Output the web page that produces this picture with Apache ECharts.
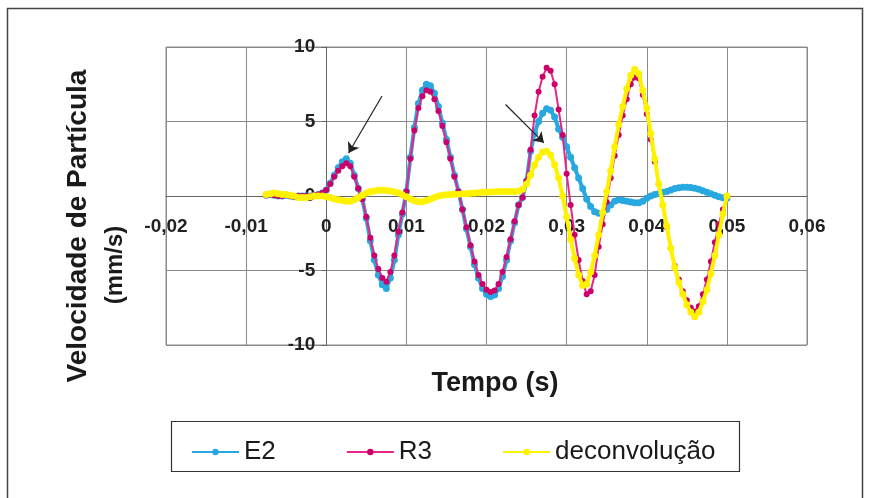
<!DOCTYPE html>
<html>
<head>
<meta charset="utf-8">
<script src="https://cdn.jsdelivr.net/npm/echarts@6/dist/echarts.min.js"></script>
<style>html,body{margin:0;padding:0;background:#fff}#c{width:870px;height:498px}</style>
</head>
<body>
<div id="c"></div>
<script>
// time (s)
var T = [
 -0.0075,-0.007,-0.0065,-0.006,-0.0055,-0.005,-0.0045,-0.004,-0.0035,-0.003,
 -0.0025,-0.002,-0.0015,-0.001,-0.0005,0,0.0005,0.001,0.0015,0.002,
 0.0025,0.003,0.0035,0.004,0.0045,0.005,0.0055,0.006,0.0065,0.007,
 0.0075,0.008,0.0085,0.009,0.0095,0.01,0.0105,0.011,0.0115,0.012,
 0.0125,0.013,0.0135,0.014,0.0145,0.015,0.0155,0.016,0.0165,0.017,
 0.0175,0.018,0.0185,0.019,0.0195,0.02,0.0205,0.021,0.0215,0.022,
 0.0225,0.023,0.0235,0.024,0.0245,0.025,0.0255,0.026,0.0265,0.027,
 0.0275,0.028,0.0285,0.029,0.0295,0.03,0.0305,0.031,0.0315,0.032,
 0.0325,0.033,0.0335,0.034,0.0345,0.035,0.0355,0.036,0.0365,0.037,
 0.0375,0.038,0.0385,0.039,0.0395,0.04,0.0405,0.041,0.0415,0.042,
 0.0425,0.043,0.0435,0.044,0.0445,0.045,0.0455,0.046,0.0465,0.047,
 0.0475,0.048,0.0485,0.049,0.0495,0.05
];
// E2 (mm/s)
var E2 = [
 0.05,0.1,0.05,0,0,0.05,0,-0.05,0,0,
 0,0,0.05,0.1,0.2,0.4,0.85,1.4,1.9,2.3,
 2.5,2.2,1.4,0.5,-0.2,-1.5,-3.0,-4.3,-5.3,-5.95,
 -6.2,-5.5,-4.3,-2.6,-1.2,0.3,2.6,4.6,6.2,7.1,
 7.5,7.4,6.9,6.0,4.9,3.8,2.6,1.4,0.3,-0.9,
 -2.2,-3.4,-4.6,-5.5,-6.2,-6.6,-6.75,-6.65,-6.2,-5.4,
 -4.3,-3.0,-1.8,-0.6,-0.1,1.0,3.0,4.2,5.0,5.55,
 5.85,5.75,5.3,4.5,3.95,3.3,2.6,1.9,1.2,0.5,
 -0.2,-0.7,-1.05,-1.15,-1.15,-0.9,-0.6,-0.35,-0.25,-0.3,
 -0.35,-0.4,-0.45,-0.45,-0.35,-0.15,0.0,0.1,0.15,0.25,
 0.3,0.4,0.5,0.55,0.58,0.58,0.57,0.52,0.45,0.35,
 0.25,0.15,0.05,-0.05,-0.12,-0.15
];
// R3 (mm/s)
var R3 = [
 0.05,0.1,0.05,0,0,0.05,0,-0.05,0,0,
 0,0,0.05,0.1,0.2,0.4,0.8,1.3,1.7,2.0,
 2.2,2.0,1.3,0.5,-0.2,-1.4,-2.8,-4.0,-4.9,-5.5,
 -5.75,-5.1,-4.0,-2.4,-1.1,0.3,2.5,4.4,5.9,6.7,
 7.1,7.0,6.5,5.7,4.7,3.6,2.5,1.3,0.3,-0.9,
 -2.1,-3.3,-4.4,-5.3,-5.9,-6.3,-6.45,-6.35,-5.9,-5.1,
 -4.1,-2.9,-1.7,-0.6,-0.1,1.0,3.1,5.4,7.0,8.0,
 8.6,8.4,7.5,5.8,4.1,1.5,-0.6,-2.6,-4.3,-5.7,
 -6.6,-6.4,-5.3,-3.4,-1.9,-0.4,1.2,2.7,4.1,5.4,
 6.5,7.5,7.95,7.9,6.8,5.5,3.8,2.3,0.8,-0.6,
 -2.1,-3.5,-4.7,-5.6,-6.4,-7.0,-7.5,-7.75,-7.4,-6.6,
 -5.6,-4.4,-3.1,-1.9,-0.9,0.0
];
// deconvolução (mm/s)
var DEC = [
 0.1,0.15,0.2,0.15,0.1,0.1,0.05,0.0,-0.1,-0.1,
 -0.1,-0.05,0.0,0.0,0.0,-0.05,-0.1,-0.2,-0.25,-0.3,
 -0.35,-0.35,-0.25,-0.1,0.05,0.2,0.28,0.33,0.38,0.38,
 0.37,0.33,0.28,0.2,0.08,-0.05,-0.2,-0.32,-0.38,-0.38,
 -0.3,-0.2,-0.1,0.0,0.05,0.08,0.1,0.12,0.12,0.15,
 0.15,0.18,0.2,0.22,0.25,0.25,0.27,0.28,0.3,0.3,
 0.3,0.3,0.3,0.32,0.45,0.8,1.4,2.1,2.6,2.95,
 3.0,2.75,2.1,1.2,0.0,-1.4,-2.9,-4.2,-5.3,-6.0,
 -5.9,-5.1,-4.0,-2.6,-1.1,0.3,1.7,3.3,4.8,6.0,
 7.2,8.1,8.5,8.2,7.1,5.9,4.2,2.5,0.8,-0.6,
 -2.0,-3.5,-4.8,-5.8,-6.6,-7.3,-7.8,-8.1,-7.8,-7.1,
 -6.3,-5.2,-4.0,-2.6,-1.2,0.0
];
var seriesNames = ['E2', 'R3', 'deconvolução'];
var xTitle = 'Tempo (s)';
var yTitle1 = 'Velocidade de Partícula';
var yTitle2 = '(mm/s)';
var xMin = -0.02, xMax = 0.06, xStep = 0.01;
var yMin = -10, yMax = 10, yStep = 5;
// annotation arrows in data units: [[t0, v0], [t1, v1]]
var arrows = [
 [[0.00696, 6.71], [0.00279, 2.89]],
 [[0.02238, 6.14], [0.02716, 3.57]]
];

var FF = '"Liberation Sans", Arial, sans-serif';
var G = {left:166, right:63, top:47, bottom:153, w:870, h:498};
var gw = G.w - G.left - G.right, gh = G.h - G.top - G.bottom;
// place axes through the origin (crossing at zero)
var xOffset = -gh * (0 - yMin) / (yMax - yMin);
var yOffset = -gw * (0 - xMin) / (xMax - xMin);

function pairs(arr){ return T.map(function(t,i){ return [t, arr[i]]; }); }
function fmtX(v){ if (Math.abs(v) < 1e-9) return '0'; return v.toFixed(2).replace('.', ','); }

var chart = echarts.init(document.getElementById('c'), null, {renderer:'canvas'});
chart.setOption({
  animation: false,
  backgroundColor: '#fff',
  grid: {left:G.left, right:G.right, top:G.top, bottom:G.bottom, show:true, borderColor:'#8a8a8a', borderWidth:1},
  xAxis: {
    type:'value', min:xMin, max:xMax, interval:xStep, position:'bottom', offset:xOffset,
    axisLine:{show:true, onZero:false, lineStyle:{color:'#666', width:1}},
    axisTick:{show:false},
    splitLine:{show:true, lineStyle:{color:'#8a8a8a', width:1}},
    axisLabel:{formatter:fmtX, fontFamily:FF, fontSize:19, fontWeight:'bold', color:'#222', margin:21, showMinLabel:true, showMaxLabel:true}
  },
  yAxis: {
    type:'value', min:yMin, max:yMax, interval:yStep, position:'left', offset:yOffset,
    axisLine:{show:true, onZero:false, lineStyle:{color:'#666', width:1}},
    axisTick:{show:true, length:5, lineStyle:{color:'#666'}},
    splitLine:{show:true, lineStyle:{color:'#8a8a8a', width:1}},
    axisLabel:{fontFamily:FF, fontSize:19, fontWeight:'bold', color:'#222', margin:11}
  },
  legend: {
    data: seriesNames, left:186, top:434, itemWidth:47, itemHeight:8, itemGap:70,
    textStyle:{fontFamily:FF, fontSize:26, color:'#1a1a1a'}
  },
  series: [
    {name:seriesNames[0], type:'line', data:pairs(E2), symbol:'circle', symbolSize:7, showSymbol:true,
     lineStyle:{color:'#27A8E0', width:4}, itemStyle:{color:'#27A8E0'}, z:2},
    {name:seriesNames[1], type:'line', data:pairs(R3), symbol:'circle', symbolSize:6, showSymbol:true,
     lineStyle:{color:'#E8258A', width:2}, itemStyle:{color:'#CC006B'}, z:3},
    {name:seriesNames[2], type:'line', data:pairs(DEC), symbol:'circle', symbolSize:7, showSymbol:true,
     lineStyle:{color:'#FFF200', width:4}, itemStyle:{color:'#FFF200'}, z:4,
     markLine:{
       silent:true, symbol:['none','arrow'], symbolSize:10, label:{show:false},
       lineStyle:{color:'#222', width:1.2, type:'solid'},
       emphasis:{disabled:true},
       data: arrows.map(function(a){ return [{coord:a[0]}, {coord:a[1]}]; })
     }}
  ],
  graphic: [
    {type:'rect', shape:{x:7.5, y:8.5, width:855, height:500}, style:{fill:'none', stroke:'#444', lineWidth:1.5}, z:-1, silent:true},
    {type:'rect', shape:{x:171.5, y:421.5, width:568, height:50}, style:{fill:'none', stroke:'#333', lineWidth:1.2}, silent:true},
    {type:'text', x:78, y:226, rotation:Math.PI/2,
     style:{text:yTitle1, fontFamily:FF, fontSize:28, fontWeight:'bold', fill:'#1a1a1a', align:'center', verticalAlign:'middle'}},
    {type:'text', x:115, y:265, rotation:Math.PI/2,
     style:{text:yTitle2, fontFamily:FF, fontSize:24, fontWeight:'bold', fill:'#1a1a1a', align:'center', verticalAlign:'middle'}},
    {type:'text', x:495, y:384,
     style:{text:xTitle, fontFamily:FF, fontSize:27, fontWeight:'bold', fill:'#1a1a1a', align:'center', verticalAlign:'middle'}}
  ]
});
</script>
</body>
</html>
